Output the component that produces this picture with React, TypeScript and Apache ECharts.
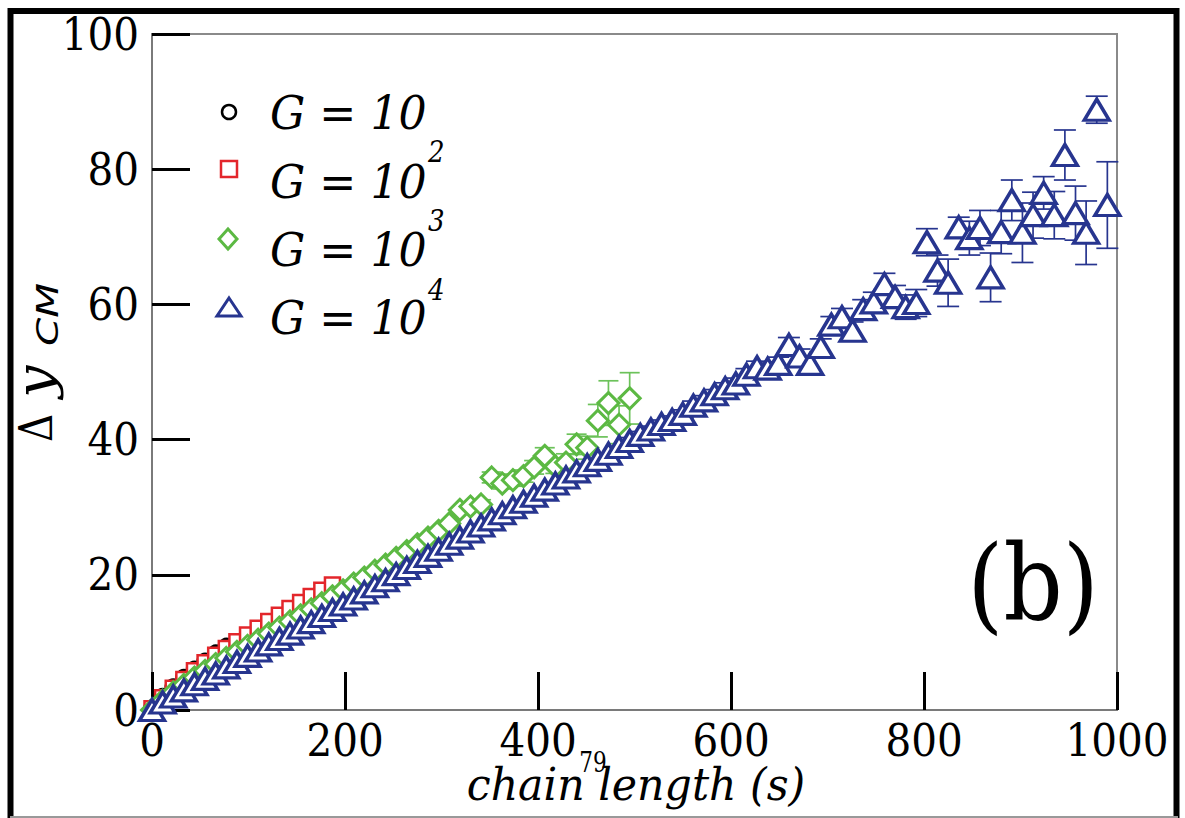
import { useEffect, useRef } from 'react';
import * as echarts from 'echarts';

// chain length s (x) and Δy_CM (y)
const S_BLACK = [0, 11, 22, 33, 44, 55, 66, 77];
const Y_BLACK = [0.3, 2.0, 3.4, 4.8, 6.0, 7.2, 8.4, 9.4];

const S_RED = [0, 11, 22, 33, 44, 55, 66, 77, 88, 99, 110, 121, 132, 143, 154, 165, 176, 187];
const Y_RED = [0.2, 1.8, 3.2, 4.5, 5.8, 7.0, 8.1, 9.1, 10.1, 11.1, 12.1, 13.1, 14.0, 15.0, 15.9, 16.8, 17.7, 18.5];

const S_GREEN = [0, 11, 22, 33, 44, 55, 66, 77, 88, 99, 110, 121, 132, 143, 154, 165, 176, 187, 198, 209,
  220, 231, 242, 253, 264, 275, 286, 297, 308, 319, 330, 341, 352, 363, 374, 385, 396, 407, 418, 429,
  440, 451, 462, 473, 484, 495];
const Y_GREEN = [0.0, 1.4, 2.6, 3.7, 4.8, 5.8, 6.8, 7.7, 8.6, 9.5, 10.4, 11.3, 12.2, 13.1, 14.0, 14.9, 15.8, 16.8, 17.7, 18.7,
  19.6, 20.6, 21.5, 22.5, 23.5, 24.5, 25.5, 26.5, 27.6, 29.6, 30.1, 30.4, 34.4, 33.5, 34.0, 34.6, 35.9, 37.6, 36.0, 36.6,
  39.3, 38.8, 42.8, 45.4, 42.2, 46.1];
const E_GREEN = [0, 0, 0, 0, 0, 0, 0, 0, 0, 0, 0, 0, 0, 0, 0, 0, 0, 0, 0, 0,
  0, 0, 0, 0, 0, 0, 0, 0, 0, 0, 0.6, 0.7, 0.8, 0.8, 0.9, 0.9, 1.0, 1.2, 1.0, 1.3,
  1.5, 1.7, 2.4, 3.3, 2.8, 3.8];

const S_BLUE = [0, 11, 22, 33, 44, 55, 66, 77, 88, 99, 110, 121, 132, 143, 154, 165, 176, 187, 198, 209,
  220, 231, 242, 253, 264, 275, 286, 297, 308, 319, 330, 341, 352, 363, 374, 385, 396, 407, 418, 429,
  440, 451, 462, 473, 484, 495, 506, 517, 528, 539, 550, 561, 572, 583, 594, 605, 616, 627, 638, 649,
  660, 671, 682, 693, 704, 715, 726, 737, 748, 759, 770, 781, 792, 803, 814, 825, 836, 847, 858, 869,
  880, 891, 902, 913, 924, 935, 946, 957, 968, 979, 990];
const Y_BLUE = [0.0, 1.1, 2.0, 2.9, 3.8, 4.6, 5.4, 6.3, 7.1, 8.0, 8.8, 9.7, 10.5, 11.3, 12.2, 13.0, 13.9, 14.8, 15.6, 16.5,
  17.4, 18.3, 19.2, 20.1, 21.0, 21.9, 22.8, 23.7, 24.6, 25.5, 26.4, 27.3, 28.2, 29.1, 30.0, 30.8, 31.7, 32.6, 33.5, 34.4,
  35.3, 36.2, 37.0, 37.9, 38.9, 39.8, 40.7, 41.5, 42.3, 42.9, 43.8, 45.0, 45.8, 46.7, 47.6, 48.3, 49.6, 50.7, 50.5, 51.2,
  54.0, 52.3, 51.2, 53.7, 57.0, 58.1, 56.1, 59.3, 60.3, 63.0, 61.1, 59.6, 60.2, 69.2, 65.0, 63.2, 71.4, 69.8, 71.3, 64.0,
  70.7, 75.4, 70.6, 73.2, 76.5, 73.2, 82.1, 73.5, 70.6, 88.8, 74.7];
const E_BLUE = [0, 0, 0, 0, 0, 0, 0, 0, 0, 0, 0, 0, 0, 0, 0, 0, 0, 0, 0, 0,
  0, 0, 0, 0, 0, 0, 0, 0, 0, 0, 0, 0, 0, 0, 0, 0, 0, 0, 0, 0,
  0, 0, 0, 0, 0, 0.5, 0.5, 0.5, 0.6, 0.6, 0.6, 0.7, 0.7, 0.7, 0.8, 0.8, 0.9, 0.9, 1.0, 1.0,
  1.1, 1.1, 1.2, 1.2, 1.2, 1.3, 1.3, 1.4, 1.5, 1.6, 1.7, 1.8, 2.0, 2.0, 2.3, 3.5, 1.5, 2.5, 2.6, 3.6,
  3.2, 3.0, 4.4, 3.4, 2.4, 3.5, 3.7, 4.0, 4.7, 2.0, 6.4];

const X_TICKS = { min: 0, max: 1000, interval: 200 };
const Y_TICKS = { min: 0, max: 100, interval: 20 };

const C_BLACK = '#000000';
const C_RED = '#e3262b';
const C_GREEN = '#5cb943';
const C_BLUE = '#27358f';
const SERIF = 'DejaVu Serif';
const AXIS_FONT = 'DejaVu Serif Condensed, DejaVu Serif';
const SANS = 'DejaVu Sans';

function pts(xs: number[], ys: number[]) {
  return xs.map((x, i) => [x, ys[i]]);
}
function errPts(xs: number[], ys: number[], es: number[]) {
  return xs.map((x, i) => [x, ys[i], es[i]]);
}
function errRender(color: string, half: number) {
  return (_p: any, api: any) => {
    const x = api.value(0);
    const y = api.value(1);
    const e = api.value(2);
    if (!(e > 0)) return { type: 'group', children: [] };
    const t = api.coord([x, y + e]);
    const b = api.coord([x, y - e]);
    const style = { stroke: color, lineWidth: 1.7 };
    return {
      type: 'group',
      children: [
        { type: 'line', shape: { x1: t[0], y1: t[1], x2: b[0], y2: b[1] }, style },
        { type: 'line', shape: { x1: t[0] - half, y1: t[1], x2: t[0] + half, y2: t[1] }, style },
        { type: 'line', shape: { x1: b[0] - half, y1: b[1], x2: b[0] + half, y2: b[1] }, style },
      ],
    };
  };
}

// baseline-positioned text (y is the baseline)
function txt(text: string, x: number, baseline: number, size: number, opts: any = {}) {
  return {
    type: 'text',
    x,
    y: baseline - 0.35 * size,
    scaleX: opts.sx || 1,
    style: {
      text,
      fontFamily: opts.family || SERIF,
      fontSize: size,
      fontStyle: opts.italic ? 'italic' : 'normal',
      fill: '#000',
      align: opts.align || 'left',
      verticalAlign: 'middle',
    },
  };
}

export default function App() {
  const ref = useRef<HTMLDivElement>(null);
  useEffect(() => {
    if (!ref.current) return;
    const chart = echarts.init(ref.current, null, { renderer: 'svg' });
    const axisCommon = {
      type: 'value' as const,
      splitLine: { show: false },
      axisLine: { show: true, onZero: false, lineStyle: { color: '#7a7a7a', width: 2 } },
      axisTick: { show: true, inside: true, length: 38, lineStyle: { color: '#000', width: 3 } },
    };
    const markerStyle = (c: string, w: number) => ({ color: '#fff', borderColor: c, borderWidth: w, opacity: 1 });
    chart.setOption({
      animation: false,
      backgroundColor: '#fff',
      textStyle: { fontFamily: SERIF },
      grid: { left: 152, top: 34, right: 68, bottom: 108, show: true, borderColor: '#8a8a8a', borderWidth: 2 },
      xAxis: {
        ...axisCommon,
        ...X_TICKS,
        axisLabel: { fontFamily: AXIS_FONT, fontSize: 45, color: '#000', margin: 8, formatter: (v: number) => String(v) },
      },
      yAxis: {
        ...axisCommon,
        ...Y_TICKS,
        axisLabel: { fontFamily: AXIS_FONT, fontSize: 45, color: '#000', margin: 13, formatter: (v: number) => String(v) },
      },
      series: [
        {
          type: 'scatter', name: 'G = 10', data: pts(S_BLACK, Y_BLACK), symbol: 'circle', symbolSize: 15,
          itemStyle: markerStyle(C_BLACK, 2.5),
        },
        {
          type: 'scatter', name: 'G = 10^2', data: pts(S_RED, Y_RED), symbol: 'rect', symbolSize: 15,
          itemStyle: markerStyle(C_RED, 2.5),
        },
        { type: 'custom', data: errPts(S_GREEN, Y_GREEN, E_GREEN), renderItem: errRender('#6cc25a', 10) },
        {
          type: 'scatter', name: 'G = 10^3', data: pts(S_GREEN, Y_GREEN), symbol: 'diamond', symbolSize: 21,
          itemStyle: markerStyle(C_GREEN, 3),
        },
        { type: 'custom', data: errPts(S_BLUE, Y_BLUE, E_BLUE), renderItem: errRender(C_BLUE, 11) },
        {
          type: 'scatter', name: 'G = 10^4', data: pts(S_BLUE, Y_BLUE), symbol: 'triangle', symbolSize: [25, 21],
          itemStyle: markerStyle(C_BLUE, 3.4),
        },
      ],
      graphic: [
        // outer frame
        { type: 'rect', shape: { x: 10.5, y: 11, width: 1166, height: 840 }, style: { fill: 'none', stroke: '#000', lineWidth: 6 }, silent: true },
        { type: 'line', shape: { x1: 10, y1: 817, x2: 1178, y2: 817 }, style: { stroke: '#999', lineWidth: 2 } },
        // legend symbols
        { type: 'circle', shape: { cx: 229, cy: 112, r: 7 }, style: { fill: '#fff', stroke: C_BLACK, lineWidth: 2.5 } },
        { type: 'rect', shape: { x: 221, y: 161, width: 16, height: 16 }, style: { fill: '#fff', stroke: C_RED, lineWidth: 2.5 } },
        { type: 'polygon', shape: { points: [[228, 229], [237, 239], [228, 249], [219, 239]] }, style: { fill: '#fff', stroke: C_GREEN, lineWidth: 3 } },
        { type: 'polygon', shape: { points: [[229, 298], [241, 316], [217, 316]] }, style: { fill: '#fff', stroke: C_BLUE, lineWidth: 3 } },
        // legend texts
        txt('G = 10', 270, 129, 47, { italic: true, sx: 0.94 }),
        txt('G = 10', 270, 198, 47, { italic: true, sx: 0.94 }),
        txt('2', 428, 162, 29, { italic: true, sx: 0.9 }),
        txt('G = 10', 270, 266, 47, { italic: true, sx: 0.94 }),
        txt('3', 428, 231, 29, { italic: true, sx: 0.9 }),
        txt('G = 10', 270, 334, 47, { italic: true, sx: 0.94 }),
        txt('4', 428, 300, 29, { italic: true, sx: 0.9 }),
        // panel label
        txt('(b)', 1033, 620, 104, { align: 'center', sx: 0.89 }),
        // page number
        txt('79', 593, 772, 27, { align: 'center', sx: 0.8 }),
        // x axis title
        txt('chain length (s)', 636, 800, 44, { italic: true, align: 'center', sx: 0.97 }),
        // y axis title (rotated)
        {
          type: 'group',
          x: 52,
          y: 442,
          rotation: Math.PI / 2,
          children: [
            txt('Δ', 0, 0, 46, { sx: 0.85 }),
            txt('y', 44, 0, 50, { italic: true, sx: 1.15 }),
            txt('CM', 96, 6, 30, { italic: true, family: SANS, sx: 1.35 }),
          ],
        },
      ],
    });
    return () => chart.dispose();
  }, []);
  return (
    <div
      ref={ref}
      style={{ position: 'fixed', left: 0, top: 0, width: 1185, height: 818, background: '#fff' }}
    />
  );
}
